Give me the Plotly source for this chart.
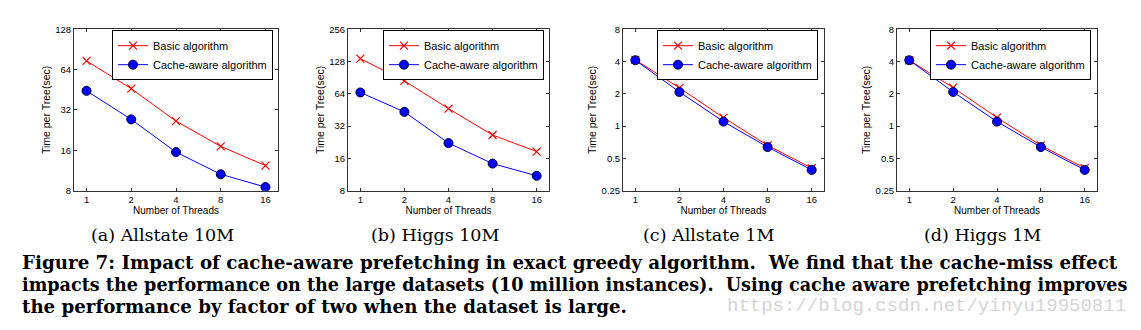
import math
import plotly.graph_objects as go

W, H = 1141, 330

threads = [1, 2, 4, 8, 16]
thread_labels = ["1", "2", "4", "8", "16"]

panel_names = ["(a) Allstate 10M", "(b) Higgs 10M", "(c) Allstate 1M", "(d) Higgs 1M"]

basic_allstate_10m = [74.3, 46.1, 26.4, 17.1, 12.3]
cache_allstate_10m = [44.4, 27.2, 15.5, 10.6, 8.5]
basic_higgs_10m = [136, 84.4, 46.5, 26.4, 18.5]
cache_higgs_10m = [65.8, 43.4, 22.2, 14.3, 11.0]
basic_allstate_1m = [4.14, 2.27, 1.20, 0.66, 0.406]
cache_allstate_1m = [4.11, 2.08, 1.10, 0.637, 0.39]
basic_higgs_1m = [4.11, 2.28, 1.20, 0.66, 0.406]
cache_higgs_1m = [4.11, 2.08, 1.10, 0.637, 0.39]

y_ticks_10m_a = [8, 16, 32, 64, 128]
y_ticks_10m_b = [8, 16, 32, 64, 128, 256]
y_ticks_1m = [0.25, 0.5, 1, 2, 4, 8]
y_labels_10m_a = ["8", "16", "32", "64", "128"]
y_labels_10m_b = ["8", "16", "32", "64", "128", "256"]
y_labels_1m = ["0.25", "0.5", "1", "2", "4", "8"]

panels = [
    (basic_allstate_10m, cache_allstate_10m, y_ticks_10m_a, y_labels_10m_a),
    (basic_higgs_10m, cache_higgs_10m, y_ticks_10m_b, y_labels_10m_b),
    (basic_allstate_1m, cache_allstate_1m, y_ticks_1m, y_labels_1m),
    (basic_higgs_1m, cache_higgs_1m, y_ticks_1m, y_labels_1m),
]

# pixel boxes of the four axes (left, right), shared top/bottom
boxes_x = [(74, 278), (348, 549), (623, 824), (897, 1097)]
box_top, box_bottom = 24, 191
legend_right = [273, 544, 818, 1091]
legend_top = 25
caption_centers = [162, 435, 708, 982]

SANS = "Liberation Sans, Arial, sans-serif"
SERIF = "DejaVu Serif, serif"
AXIS_COLOR = "#333333"

fig = go.Figure()
layout = dict(
    width=W, height=H,
    margin=dict(l=0, r=0, t=0, b=0),
    paper_bgcolor="white", plot_bgcolor="white",
    showlegend=True,
    annotations=[],
)

xpad = 0.28 * math.log10(2)
for i, (basic, cache, yt, yl) in enumerate(panels):
    n = "" if i == 0 else str(i + 1)
    xa, ya = "x" + n, "y" + n
    leg = "legend" if i == 0 else "legend" + str(i + 1)
    fig.add_trace(go.Scatter(
        x=threads, y=basic, xaxis=xa, yaxis=ya, mode="lines+markers",
        name="Basic algorithm", legend=leg,
        line=dict(color="#ff0000", width=1),
        marker=dict(symbol="x-thin", size=8, color="#ff0000",
                    line=dict(color="#ff0000", width=1.2)),
    ))
    fig.add_trace(go.Scatter(
        x=threads, y=cache, xaxis=xa, yaxis=ya, mode="lines+markers",
        name="Cache-aware algorithm", legend=leg,
        line=dict(color="#0000ff", width=1),
        marker=dict(symbol="circle", size=9, color="#0000ff",
                    line=dict(color="#000033", width=1)),
    ))
    l, r = boxes_x[i]
    axis_common = dict(
        showgrid=False, zeroline=False, showline=True, linecolor=AXIS_COLOR,
        linewidth=1, mirror="ticks", ticks="inside", ticklen=3,
        tickcolor=AXIS_COLOR, tickfont=dict(family=SANS, size=9.5, color="black"),
    )
    layout["xaxis" + n] = dict(
        axis_common, type="log", domain=[l / W, r / W], anchor=ya,
        range=[-xpad, math.log10(16) + xpad],
        tickvals=threads, ticktext=thread_labels,
        title=dict(text="Number of Threads", font=dict(family=SANS, size=10, color="black"),
                   standoff=0),
    )
    layout["yaxis" + n] = dict(
        axis_common, type="log", domain=[1 - box_bottom / H, 1 - box_top / H], anchor=xa,
        range=[math.log10(yt[0]), math.log10(yt[-1])],
        tickvals=yt, ticktext=yl,
        title=dict(text="Time per Tree(sec)", font=dict(family=SANS, size=10.5, color="black"),
                   standoff=2),
    )
    layout[leg] = dict(
        x=legend_right[i] / W, y=1 - legend_top / H, xanchor="right", yanchor="top",
        bordercolor="black", borderwidth=1, bgcolor="white",
        font=dict(family=SANS, size=11, color="black"),
        tracegroupgap=0, itemwidth=30,
    )
    layout["annotations"].append(dict(
        text=panel_names[i], x=caption_centers[i] / W, y=1 - 237 / H,
        xref="paper", yref="paper", xanchor="center", yanchor="middle",
        showarrow=False, font=dict(family=SERIF, size=17.5, color="black"),
    ))

caption_lines = [
    "Figure 7: Impact of cache-aware prefetching in exact greedy algorithm.  We find that the cache-miss effect",
    "impacts the performance on the large datasets (10 million instances).  Using cache aware prefetching improves",
    "the performance by factor of two when the dataset is large.",
]
caption_y = [265, 288, 311]
caption_sizes = [18.3, 17.6, 18.2]
for text, py, fs in zip(caption_lines, caption_y, caption_sizes):
    layout["annotations"].append(dict(
        text="<b>" + text + "</b>", x=20 / W, y=1 - py / H,
        xref="paper", yref="paper", xanchor="left", yanchor="middle",
        showarrow=False, font=dict(family=SERIF, size=fs, color="black"),
    ))

layout["annotations"].append(dict(
    text="https://blog.csdn.net/yinyu19950811", x=1128 / W, y=1 - 310 / H,
    xref="paper", yref="paper", xanchor="right", yanchor="middle",
    showarrow=False, font=dict(family="Liberation Mono, monospace", size=19, color="#d4d4d4"),
))

fig.update_layout(**layout)
fig.write_html("out.html")
